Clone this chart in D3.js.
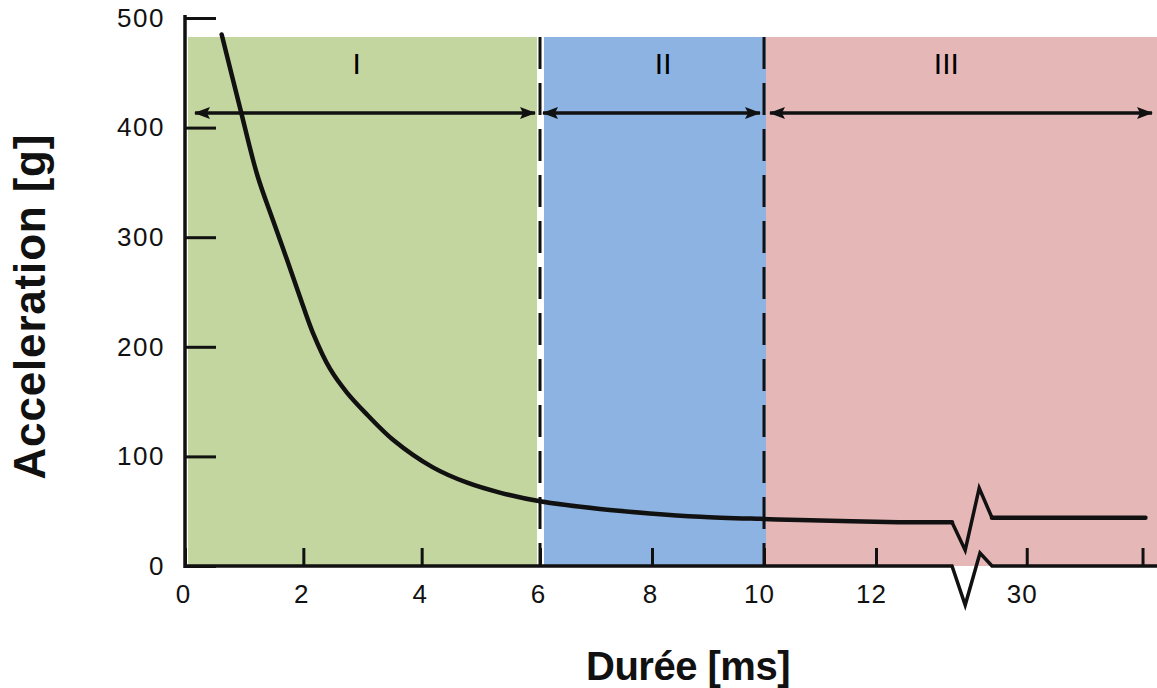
<!doctype html>
<html>
<head>
	<meta charset="utf-8">
	<script src="https://d3js.org/d3.v7.min.js"></script>
</head>
<body style="margin: 0; background-color: white;">
	<div id="my_dataviz"></div>
	<script>

// data (duration in ms, acceleration in g)
var durations = [0.62, 0.93, 1.22, 1.49, 1.72, 1.94, 2.16, 2.45, 2.74, 3.08, 3.52, 4.19, 4.77, 5.32, 6.0, 7.07, 7.96, 8.86, 9.93, 10.64, 12.4, 13.35];
var accel     = [485, 418, 357, 315, 280, 246, 213, 180, 158, 138, 115, 90, 76, 67, 59, 52, 48, 45, 43, 42, 40, 40];
// part of the curve after the axis break
var durations2 = [29.4, 32.05];
var accel2     = [44, 44];

// zones
var zoneNames = ["I", "II", "III"];
var zoneStart = [0, 6, 10];
var zoneEnd   = [6, 10, 32.25];
var zoneLabelAt = [2.9, 8.2, 13.25];

// ticks
var xTicks = [0, 2, 4, 6, 8, 10, 12, 30, 32];
var xTickLabels = ["0", "2", "4", "6", "8", "10", "12", "30", ""];
var yTicks = [0, 100, 200, 300, 400, 500];

var width = 1157, height = 688;
var zoneColors = ["#c4d69f", "#8db3e2", "#e5b8b7"];
var breakFrom = 13.35, breakTo = 29.4;

var svg = d3.select("#my_dataviz")
  .append("svg")
    .attr("width", width)
    .attr("height", height)
    .style("display", "block");

// x scale is piecewise: 0-13.35 ms, break, then 29.4-32.25 ms
var x = d3.scaleLinear()
    .domain([0, 6, 12, breakFrom, breakTo, 32.25])
    .range([185, 540, 876, 952, 992, 1157]);

var y = d3.scaleLinear()
    .domain([0, 500])
    .range([566, 18]);

var zoneTop = 37;

// coloured zones
svg.selectAll("rect.zone")
  .data(zoneNames)
  .enter().append("rect")
    .attr("class", "zone")
    .attr("x", function(d, i) { return x(zoneStart[i]) + (i == 0 ? 3 : (i == 1 ? 4 : 2)); })
    .attr("y", zoneTop)
    .attr("width", function(d, i) {
      var x0 = x(zoneStart[i]) + (i == 0 ? 3 : (i == 1 ? 4 : 2));
      var x1 = x(zoneEnd[i]) + (i == 0 ? -3 : (i == 1 ? 3 : 0));
      return x1 - x0;
    })
    .attr("height", y(0) - zoneTop)
    .attr("fill", function(d, i) { return zoneColors[i]; });

// dashed zone limits
svg.selectAll("line.limit")
  .data([6, 10])
  .enter().append("line")
    .attr("class", "limit")
    .attr("x1", function(d) { return x(d); })
    .attr("x2", function(d) { return x(d); })
    .attr("y1", zoneTop)
    .attr("y2", y(0))
    .attr("stroke", "#111")
    .attr("stroke-width", 3)
    .attr("stroke-dasharray", "32,14");

// zone labels
svg.selectAll("text.zone")
  .data(zoneNames)
  .enter().append("text")
    .attr("class", "zone")
    .attr("x", function(d, i) { return x(zoneLabelAt[i]); })
    .attr("y", 74)
    .attr("text-anchor", "middle")
    .style("font-family", "Liberation Sans, Arial, sans-serif")
    .style("font-size", "30px")
    .text(function(d) { return d; });

// double arrows
var defs = svg.append("defs");
defs.append("marker")
    .attr("id", "head")
    .attr("markerUnits", "userSpaceOnUse")
    .attr("viewBox", "0 0 16 12")
    .attr("refX", 15)
    .attr("refY", 6)
    .attr("markerWidth", 16)
    .attr("markerHeight", 12)
    .attr("orient", "auto-start-reverse")
  .append("path")
    .attr("d", "M0,0 L16,6 L0,12 L3,6 Z")
    .attr("fill", "#111");

var arrowY = 113;
var arrowPad = [[10, -5], [3, -4], [6, -5]];
svg.selectAll("line.arrow")
  .data(zoneNames)
  .enter().append("line")
    .attr("class", "arrow")
    .attr("x1", function(d, i) { return x(zoneStart[i]) + arrowPad[i][0]; })
    .attr("x2", function(d, i) { return x(zoneEnd[i]) + arrowPad[i][1]; })
    .attr("y1", arrowY)
    .attr("y2", arrowY)
    .attr("stroke", "#111")
    .attr("stroke-width", 3.5)
    .attr("marker-start", "url(#head)")
    .attr("marker-end", "url(#head)");

// y axis
var yAxis = svg.append("g")
    .attr("transform", "translate(" + x(0) + ",0)")
    .call(d3.axisLeft(y).tickValues(yTicks).tickSizeInner(-31).tickSizeOuter(0).tickPadding(20));
yAxis.select(".domain").remove();
yAxis.selectAll(".tick line").attr("stroke", "#111").attr("stroke-width", 3);
yAxis.selectAll(".tick text")
    .attr("fill", "#111")
    .style("font-family", "Liberation Sans, Arial, sans-serif")
    .style("font-size", "26px")
    .style("letter-spacing", "1.5px");
svg.append("line")
    .attr("x1", x(0)).attr("x2", x(0))
    .attr("y1", y(500) - 3).attr("y2", y(0) + 2)
    .attr("stroke", "#111")
    .attr("stroke-width", 3.5);

// x axis
var xAxis = svg.append("g")
    .attr("transform", "translate(0," + y(0) + ")")
    .call(d3.axisBottom(x).tickValues(xTicks).tickSizeInner(-18).tickSizeOuter(0).tickPadding(19)
      .tickFormat(function(d, i) { return xTickLabels[i]; }));
xAxis.select(".domain").remove();
xAxis.selectAll(".tick line").attr("stroke", "#111").attr("stroke-width", 3);
xAxis.selectAll(".tick text")
    .attr("fill", "#111")
    .attr("dx", function(d) { return d >= 10 ? -5 : -2; })
    .style("font-family", "Liberation Sans, Arial, sans-serif")
    .style("font-size", "26px")
    .style("letter-spacing", "1px");

// x axis line with break mark
var bx0 = x(breakFrom), bx1 = x(breakTo), bw = bx1 - bx0;
svg.append("path")
    .attr("d", "M" + x(0) + "," + y(0) +
      " L" + bx0 + "," + y(0) +
      " L" + (bx0 + bw * 0.33) + "," + (y(0) + 39) +
      " L" + (bx0 + bw * 0.7) + "," + (y(0) - 13) +
      " L" + bx1 + "," + y(0) +
      " L" + width + "," + y(0))
    .attr("fill", "none")
    .attr("stroke", "#111")
    .attr("stroke-width", 3.5)
    .attr("stroke-linejoin", "miter");

// the curve
var line = d3.line()
    .curve(d3.curveCatmullRom.alpha(0.5))
    .x(function(d) { return x(d[0]); })
    .y(function(d) { return y(d[1]); });

svg.append("path")
    .datum(d3.zip(durations, accel))
    .attr("d", line)
    .attr("fill", "none")
    .attr("stroke", "#111")
    .attr("stroke-width", 4.5)
    .attr("stroke-linecap", "round");

// break mark on the curve
var ya = y(accel[accel.length - 1]), yb = y(accel2[0]);
svg.append("path")
    .attr("d", "M" + bx0 + "," + ya +
      " L" + (bx0 + bw * 0.33) + "," + (ya + 28) +
      " L" + (bx0 + bw * 0.68) + "," + (ya - 34) +
      " L" + bx1 + "," + yb)
    .attr("fill", "none")
    .attr("stroke", "#111")
    .attr("stroke-width", 3.5);

svg.append("path")
    .datum(d3.zip(durations2, accel2))
    .attr("d", line)
    .attr("fill", "none")
    .attr("stroke", "#111")
    .attr("stroke-width", 4.5)
    .attr("stroke-linecap", "round");

// axis titles
svg.append("text")
    .attr("transform", "translate(45,307) rotate(-90)")
    .attr("text-anchor", "middle")
    .attr("textLength", 345)
    .attr("lengthAdjust", "spacing")
    .style("font-family", "Liberation Sans, Arial, sans-serif")
    .style("font-size", "44px")
    .style("font-weight", "bold")
    .attr("fill", "#111")
    .text("Acceleration [g]");

svg.append("text")
    .attr("x", 688)
    .attr("y", 680)
    .attr("text-anchor", "middle")
    .style("font-family", "Liberation Sans, Arial, sans-serif")
    .style("font-size", "40px")
    .style("font-weight", "bold")
    .style("letter-spacing", "-0.5px")
    .attr("fill", "#111")
    .text("Durée [ms]");

	</script>
</body>
</html>
